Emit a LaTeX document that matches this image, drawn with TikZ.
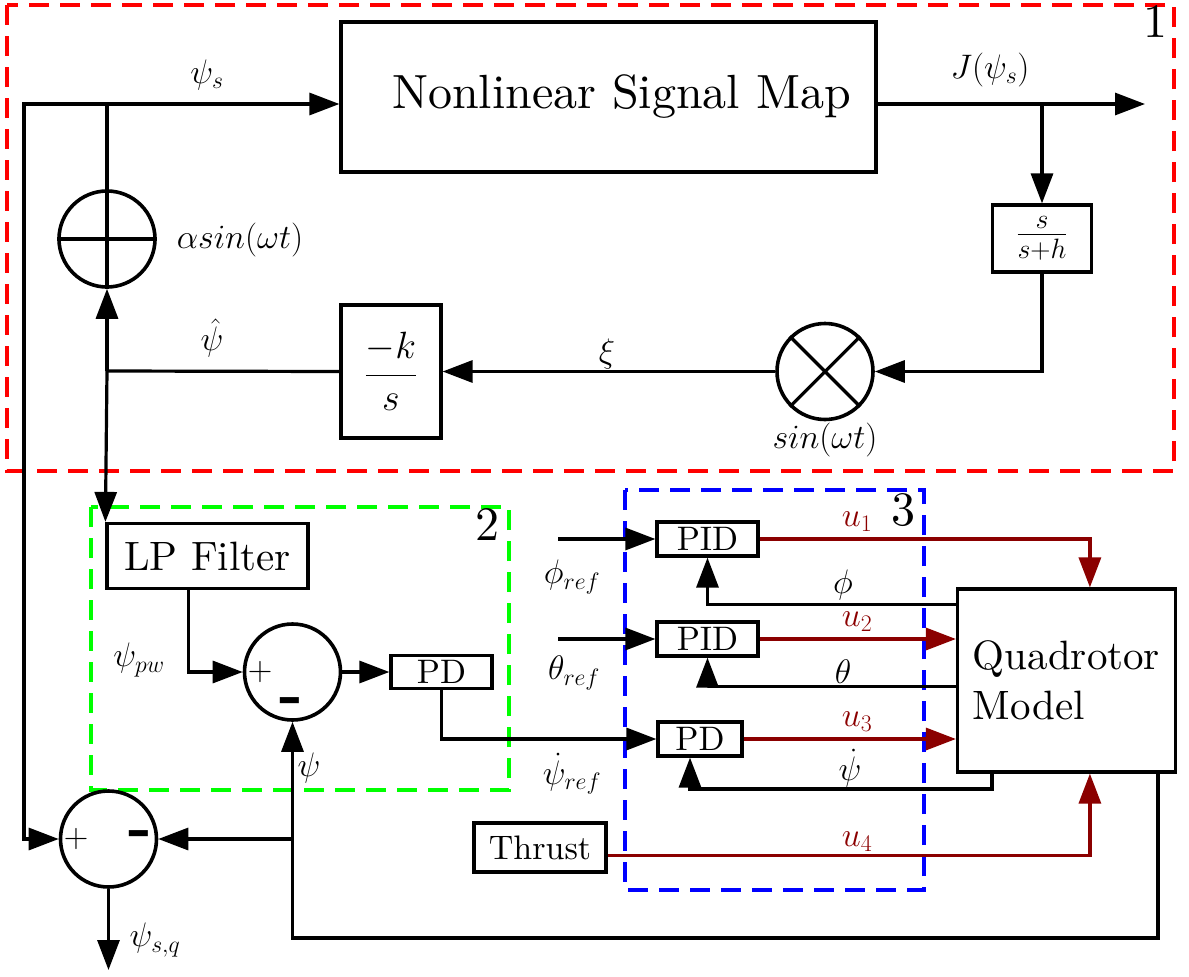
\RequirePackage{fix-cm}
\documentclass[tikz,border=0pt]{standalone}
\usepackage{amsmath}
\DeclareFontShape{TU}{lmr}{m}{n}{<-> "[lmroman10-regular]"}{}
\DeclareFontShape{TU}{lmr}{bx}{n}{<-> "[lmroman10-bold]"}{}
\usetikzlibrary{arrows.meta,calc}
\definecolor{darkred}{RGB}{139,0,0}
\definecolor{brgreen}{RGB}{0,255,0}
\begin{document}
\begin{tikzpicture}[x=1pt,y=-1pt,
  ln/.style={line width=3.2pt},
  arr/.style={ln,-{Triangle[length=30pt,width=22pt]}},
  uarr/.style={arr,draw=darkred},
  blk/.style={draw,line width=3.2pt,inner sep=0pt,font=\fontsize{34}{40}\selectfont},
  sumc/.style={draw,circle,line width=3.6pt,minimum size=96pt,inner sep=0pt},
  lbl/.style={font=\fontsize{34}{40}\selectfont,inner sep=0pt},
  ulbl/.style={lbl,text=darkred},
  num/.style={font=\fontsize{48}{56}\selectfont,inner sep=0pt},
  sgn/.style={font=\fontsize{34}{40}\selectfont,inner sep=0pt},
  neg/.style={font=\fontsize{48}{56}\selectfont\bfseries,inner sep=0pt,xscale=1.3,yscale=1.3},
  redbox/.style={draw=red,line width=3.2pt,dash pattern=on 20pt off 11pt},
  greenbox/.style={draw=brgreen,line width=3.2pt,dash pattern=on 20pt off 11pt},
  bluebox/.style={draw=blue,line width=3.2pt,dash pattern=on 20pt off 11pt}
]
\useasboundingbox (0,0) rectangle (1189,977);

% ---------- region 1 ----------
\draw[redbox] (7,5) rectangle (1174,471);
\node[num] (n1) at (1155,22) {1};

\node[blk,minimum width=535pt,minimum height=150pt,font=\fontsize{48}{56}\selectfont] (nsm) at (608.5,97) {\raisebox{4pt}{\hspace*{26pt}Nonlinear Signal Map}};
\node[sumc] (oplus) at (107,239) {};
\draw[ln] (oplus.west) -- (oplus.east) (oplus.north) -- (oplus.south);
\node[blk,minimum width=100pt,minimum height=133pt,font=\fontsize{38}{46}\selectfont] (ks) at (391,371.5) {$\dfrac{-k}{s}$};
\node[sumc] (otimes) at (825,371.5) {};
\draw[ln] (otimes.north west) -- (otimes.south east) (otimes.north east) -- (otimes.south west);
\node[blk,minimum width=99pt,minimum height=67pt,font=\fontsize{40}{48}\selectfont] (hpf) at (1042,238.5) {$\frac{s}{s+h}$};

\node[lbl] (lpsis) at (207,75) {$\psi_s$};
\node[lbl] (lalpha) at (240,240) {$\alpha sin(\omega t)$};
\node[lbl] (lpsihat) at (212,338) {$\hat{\psi}$};
\node[lbl] (lxi) at (607,354) {$\xi$};
\node[lbl] (lsin) at (825,440) {$sin(\omega t)$};
\node[lbl] (lJ) at (990,70) {$J(\psi_s)$};

\coordinate (J1) at (107,104);
\coordinate (L1) at (24,104);
\coordinate (L2) at (24,839);
\coordinate (J2) at (107,371);
\coordinate (J3) at (1042,104);
\coordinate (Jout) at (1145,104);

% ---------- region 2 ----------
\draw[greenbox] (91,507) rectangle (509,790);
\node[num] (n2) at (487,525) {2};
\node[blk,minimum width=201pt,minimum height=65pt,font=\fontsize{41}{48}\selectfont] (lp) at (207.5,556) {LP Filter};
\node[sumc] (sum2) at (292.5,672) {};
\node[sgn] (p2) at (260,672) {$+$};
\node[neg] (m2) at (291,706) {-};
\node[blk,minimum width=101pt,minimum height=33pt] (pd1) at (441.5,672) {PD};
\node[lbl] (lpw) at (139,660) {$\psi_{pw}$};

% ---------- sum 3 ----------
\node[sumc] (sum3) at (108.5,839) {};
\node[sgn] (p3) at (76,839) {$+$};
\node[neg] (m3) at (140.5,839) {-};
\node[lbl] (lpsi) at (309,768) {$\psi$};
\node[lbl] (lpsisq) at (155,940) {$\psi_{s,q}$};
\coordinate (J4) at (292.5,839);
\coordinate (B1) at (292.5,938);
\coordinate (Y) at (108.5,970);

% ---------- region 3 ----------
\draw[bluebox] (625,490) rectangle (924,890);
\node[num] (n3) at (903,510) {3};
\node[blk,minimum width=101pt,minimum height=34pt] (pid1) at (707.5,539) {PID};
\node[blk,minimum width=101pt,minimum height=34pt] (pid2) at (707.5,639) {PID};
\node[blk,minimum width=84pt,minimum height=34pt] (pd2) at (700,739) {PD};
\node[blk,minimum width=132pt,minimum height=49pt] (thr) at (540,847.5) {Thrust};
\node[blk,minimum width=218pt,minimum height=183pt,align=left,font=\fontsize{41}{50}\selectfont] (quad) at (1066.5,680.5) {Quadrotor\\Model};

\coordinate (phin) at (558,539);
\coordinate (thin) at (558,639);
\coordinate (qpd) at (992,789);
\coordinate (qout) at (1158,772);

\node[lbl] (lphr) at (572,577) {$\phi_{ref}$};
\node[lbl] (lthr) at (574,673) {$\theta_{ref}$};
\node[lbl] (lpsr) at (572,774) {$\dot{\psi}_{ref}$};
\node[ulbl] (lu1) at (857,522) {$u_1$};
\node[lbl] (lphi) at (843,585) {$\phi$};
\node[ulbl] (lu2) at (857,622) {$u_2$};
\node[lbl] (ltheta) at (843,672) {$\theta$};
\node[ulbl] (lu3) at (857,722) {$u_3$};
\node[lbl] (lpsid) at (850,768) {$\dot{\psi}$};
\node[ulbl] (lu4) at (857,842) {$u_4$};

% ---------- connectors ----------
\draw[ln] (oplus.north) -- (J1);
\draw[arr] (J1) -- (J1 -| nsm.west);
\draw[arr] (J1) -- (L1) -- (L2) -- (sum3.west);
\draw[arr] (J1 -| nsm.east) -- (Jout);
\draw[arr] (J3) -- (hpf.north);
\draw[arr] (hpf.south) |- (otimes.east);
\draw[arr] (otimes.west) -- (ks.east);
\draw[ln] (ks.west) -- (J2);
\draw[arr] (J2) -- (oplus.south);
\draw[arr] (J2) -- (lp.north west);

\draw[arr] ([xshift=83pt]lp.south west) |- (sum2.west);
\draw[arr] (sum2.east) -- (pd1.west);
\draw[arr] (pd1.south) |- (pd2.west);

\draw[arr] (qout) |- (B1) -- (sum2.south);
\draw[arr] (J4) -- (sum3.east);
\draw[arr] (sum3.south) -- (Y);

\draw[arr] (phin) -- (pid1.west);
\draw[arr] (thin) -- (pid2.west);
\draw[uarr] (pid1.east) -| ([xshift=134pt]quad.north west);
\draw[arr] ([yshift=-17pt]quad.north west) -| (pid1.south);
\draw[uarr] (pid2.east) -- (pid2.east -| quad.west);
\draw[arr] ([yshift=-99pt]quad.north west) -| (pid2.south);
\draw[uarr] (pd2.east) -- (pd2.east -| quad.west);
\draw[arr] (qpd |- quad.south) -- (qpd) -| ([xshift=-10pt]pd2.south);
\draw[uarr] ([yshift=-8pt]thr.east) -| ([xshift=134pt]quad.south west);
\end{tikzpicture}
\end{document}
